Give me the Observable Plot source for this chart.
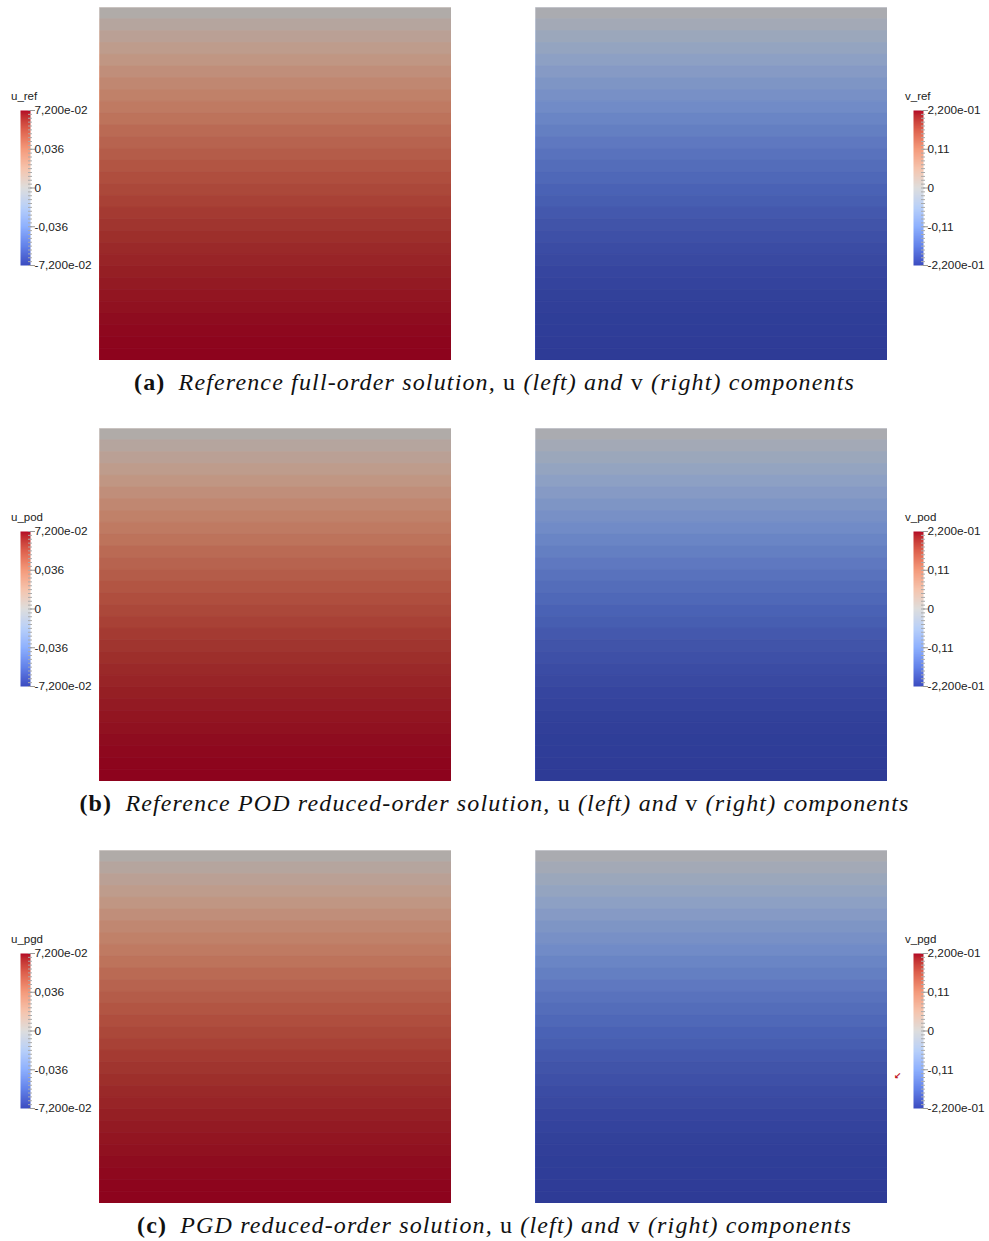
<!DOCTYPE html>
<html>
<head>
<meta charset="utf-8">
<script src="https://cdn.jsdelivr.net/npm/d3@7"></script>
<script src="https://cdn.jsdelivr.net/npm/@observablehq/plot@0.6"></script>
<style>
  html, body { margin: 0; padding: 0; background: #fff; }
  #root { position: relative; width: 989px; height: 1241px; overflow: hidden; }
  .abs { position: absolute; }
  .ltitle { font-family: "Liberation Sans", Arial, sans-serif; font-size: 11.5px; color: #222; }
  .caption { font-family: "Liberation Serif", "DejaVu Serif", serif; font-size: 24px; letter-spacing: 1.15px; color: #111; white-space: nowrap; text-align: center; width: 989px; left: 0; }
  .caption b { font-weight: bold; font-style: normal; margin-right: 6px; }
  .caption i { font-style: italic; }
  .caption .r { font-style: normal; }
  .glyph { font-family: "DejaVu Sans", sans-serif; font-size: 9px; line-height: 9px; color: #c0141e; font-weight: bold; }
</style>
</head>
<body>
<div id="root"></div>
<script>
// ---- data ----
// u component, 30 mesh rows from top to bottom
const uValues = [0.0024, 0.0070, 0.0115, 0.0158, 0.0198, 0.0240, 0.0278, 0.0315, 0.0350, 0.0384,
                 0.0416, 0.0446, 0.0475, 0.0502, 0.0528, 0.0552, 0.0574, 0.0595, 0.0614, 0.0632,
                 0.0648, 0.0662, 0.0675, 0.0686, 0.0696, 0.0704, 0.0710, 0.0715, 0.0718, 0.0720];
// v component, 30 mesh rows from top to bottom
const vValues = [-0.007, -0.021, -0.035, -0.048, -0.061, -0.073, -0.085, -0.096, -0.107, -0.117,
                 -0.127, -0.136, -0.145, -0.153, -0.161, -0.169, -0.175, -0.182, -0.188, -0.193,
                 -0.198, -0.202, -0.206, -0.210, -0.213, -0.215, -0.217, -0.218, -0.219, -0.220];
const uRange = 0.072;
const vRange = 0.22;
const uTickValues = [0.072, 0.036, 0, -0.036, -0.072];
const uTickLabels = ["7,200e-02", "0,036", "0", "-0,036", "-7,200e-02"];
const vTickValues = [0.22, 0.11, 0, -0.11, -0.22];
const vTickLabels = ["2,200e-01", "0,11", "0", "-0,11", "-2,200e-01"];
const panelLetters = ["(a)", "(b)", "(c)"];
const panelSuffix = ["ref", "pod", "pgd"];
const panelTitles = ["Reference full-order solution,", "Reference POD reduced-order solution,", "PGD reduced-order solution,"];

// ParaView "Cool to Warm" colour map stops
const coolWarm = ["#3b4cc0", "#6282ea", "#8db0fe", "#b8d0f9", "#dddddd", "#f5c4ad", "#f49a7b", "#de604d", "#b40426"];

const root = document.getElementById("root");
function place(el, left, top) {
  el.classList.add("abs");
  el.style.left = left + "px";
  el.style.top = top + "px";
  root.appendChild(el);
  return el;
}
function colorScale(m) {
  return {
    type: "linear",
    domain: d3.range(coolWarm.length).map(i => -m + (2 * m * i) / (coolWarm.length - 1)),
    range: coolWarm,
    interpolate: "lab",
    clamp: true
  };
}

function field(values, m) {
  const data = values.map((value, row) => ({row, value}));
  return Plot.plot({
    width: 352, height: 353, margin: 0,
    x: {axis: null},
    y: {axis: null, padding: 0, round: false, domain: d3.range(values.length)},
    color: colorScale(m),
    marks: [
      Plot.cell(data, {y: "row", fill: "value", stroke: "value", strokeWidth: 0.6, inset: 0}),
      // ParaView lighting darkens the surface
      Plot.frame({fill: "black", fillOpacity: 0.215, stroke: null})
    ]
  });
}

function legend(m, ticks, labels) {
  const labelMap = new Map(ticks.map((t, i) => [t, labels[i]]));
  const minor = d3.range(41).map(i => -m + (2 * m * i) / 40);
  return Plot.plot({
    width: 96, height: 171,
    marginTop: 8, marginBottom: 8, marginLeft: 20, marginRight: 66,
    x: {axis: null, domain: [0, 1]},
    y: {domain: [-m, m], axis: null},
    color: colorScale(m),
    style: {fontFamily: "Liberation Sans, Arial, sans-serif", fontSize: "11.5px", color: "#222", overflow: "visible"},
    marks: [
      Plot.raster({fill: (x, y) => y, x1: 0, x2: 1, y1: -m, y2: m, width: 1, height: 200, imageRendering: "auto"}),
      Plot.axisY(minor, {anchor: "right", tickSize: 4, tickFormat: () => "", stroke: "#aaa", strokeWidth: 1, dx: -3}),
      Plot.axisY(ticks, {anchor: "right", tickSize: 5, tickPadding: 0, tickFormat: d => labelMap.get(d), stroke: "#999", fill: "#222", dx: -1, fontSize: 11.8})
    ]
  });
}

function legendTitle(text, left, top) {
  const d = document.createElement("div");
  d.className = "ltitle";
  d.textContent = text;
  place(d, left, top);
}

const rowTops = [7, 428, 850];
rowTops.forEach((top, k) => {
  place(field(uValues, uRange), 99, top);
  place(field(vValues, vRange), 535, top);
  const barTop = top + 103;
  place(legend(uRange, uTickValues, uTickLabels), 0, barTop - 8);
  place(legend(vRange, vTickValues, vTickLabels), 893, barTop - 8);
  legendTitle("u_" + panelSuffix[k], 11, barTop - 20);
  legendTitle("v_" + panelSuffix[k], 905, barTop - 20);
  const cap = document.createElement("div");
  cap.className = "caption";
  cap.innerHTML = `<b>${panelLetters[k]}</b> <i>${panelTitles[k]}</i> <span class="r">u</span> <i>(left) and</i> <span class="r">v</span> <i>(right) components</i>`;
  place(cap, 0, top + 362);
});

// small orientation-axes glyph visible in panel (c)
const g = document.createElement("div");
g.className = "glyph";
g.textContent = "↙";
place(g, 894, 1072);
</script>
</body>
</html>
